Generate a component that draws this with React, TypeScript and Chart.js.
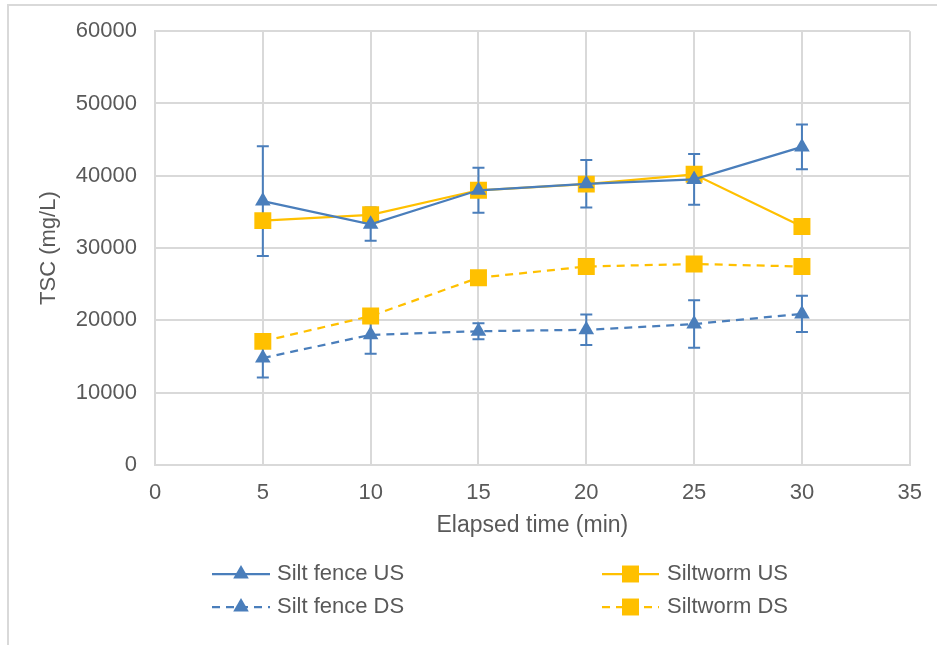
import React, { useEffect, useRef } from "react";
import { Chart, registerables } from "chart.js";
import { drawPoint } from "chart.js/helpers";

Chart.register(...registerables);

const times = [5, 10, 15, 20, 25, 30];
const siltFenceUS = [36500, 33300, 38000, 38900, 39500, 44000];
const siltFenceUSErr = [7600, 2300, 3100, 3300, 3500, 3100];
const siltwormUS = [33800, 34600, 38000, 38850, 40200, 33000];
const siltFenceDS = [14800, 18000, 18500, 18700, 19500, 20900];
const siltFenceDSErr = [2700, 2600, 1100, 2100, 3300, 2500];
const siltwormDS = [17100, 20600, 25900, 27450, 27800, 27450];
const seriesNames = ["Silt fence US", "Siltworm US", "Silt fence DS", "Siltworm DS"];
const yTicks = [0, 10000, 20000, 30000, 40000, 50000, 60000];

const BLUE = "#4A7EBB";
const GOLD = "#FFC000";
const GRID = "#d9d9d9";
const TEXT = "#595959";
const FONT = "'Liberation Sans', Arial, sans-serif";

const toPts = (vals: number[]) => vals.map((v, i) => ({ x: times[i], y: v }));

export default function App() {
  const ref = useRef<HTMLCanvasElement | null>(null);
  useEffect(() => {
    if (!ref.current) return;
    const errors: Record<number, number[]> = { 0: siltFenceUSErr, 2: siltFenceDSErr };

    const errorBarPlugin = {
      id: "errorBars",
      beforeDatasetsDraw(chart: any) {
        const ctx = chart.ctx;
        const xs = chart.scales.x;
        const ys = chart.scales.y;
        ctx.save();
        Object.keys(errors).forEach((k) => {
          const idx = Number(k);
          const ds = chart.data.datasets[idx];
          const err = errors[idx];
          ctx.strokeStyle = ds.borderColor;
          ctx.lineWidth = 2;
          ds.data.forEach((p: any, i: number) => {
            const x = xs.getPixelForValue(p.x);
            const yt = ys.getPixelForValue(p.y + err[i]);
            const yb = ys.getPixelForValue(p.y - err[i]);
            ctx.beginPath();
            ctx.moveTo(x, yt);
            ctx.lineTo(x, yb);
            ctx.moveTo(x - 6, yt);
            ctx.lineTo(x + 6, yt);
            ctx.moveTo(x - 6, yb);
            ctx.lineTo(x + 6, yb);
            ctx.stroke();
          });
        });
        ctx.restore();
      },
    };

    const framePlugin = {
      id: "frameLegend",
      beforeDraw(chart: any) {
        const ctx = chart.ctx;
        ctx.save();
        ctx.fillStyle = "#ffffff";
        ctx.fillRect(0, 0, chart.width, chart.height);
        ctx.strokeStyle = GRID;
        ctx.lineWidth = 2;
        ctx.beginPath();
        ctx.moveTo(8, chart.height);
        ctx.lineTo(8, 5);
        ctx.lineTo(chart.width, 5);
        ctx.stroke();
        ctx.restore();
      },
      afterDraw(chart: any) {
        const ctx = chart.ctx;
        const cols = [
          { x0: 212, x1: 270, text: 277 },
          { x0: 602, x1: 659, text: 667 },
        ];
        const rows = [574, 607];
        ctx.save();
        chart.data.datasets.forEach((ds: any, i: number) => {
          const c = cols[i % 2];
          const y = rows[Math.floor(i / 2)];
          ctx.strokeStyle = ds.borderColor;
          ctx.lineWidth = ds.borderWidth;
          ctx.setLineDash(ds.borderDash || []);
          ctx.beginPath();
          ctx.moveTo(c.x0, y);
          ctx.lineTo(c.x1, y);
          ctx.stroke();
          ctx.setLineDash([]);
          ctx.fillStyle = ds.backgroundColor;
          drawPoint(
            ctx,
            { pointStyle: ds.pointStyle, radius: ds.pointRadius, borderWidth: 0, rotation: 0 } as any,
            (c.x0 + c.x1) / 2,
            y
          );
          ctx.fillStyle = TEXT;
          ctx.font = `22px ${FONT}`;
          ctx.textBaseline = "middle";
          ctx.textAlign = "left";
          ctx.fillText(ds.label, c.text, y);
        });
        ctx.restore();
      },
    };

    const mk = (label: string, data: number[], color: string, style: string, r: number, dashed: boolean) => ({
      label,
      data: toPts(data),
      borderColor: color,
      backgroundColor: color,
      borderWidth: 2.25,
      borderDash: dashed ? [8, 6] : [],
      pointStyle: style,
      pointRadius: r,
      pointHoverRadius: r,
      pointBorderWidth: 0,
      pointBackgroundColor: color,
      tension: 0,
    });

    const chart = new Chart(ref.current, {
      type: "line",
      data: {
        datasets: [
          mk(seriesNames[0], siltFenceUS, BLUE, "triangle", 9, false),
          mk(seriesNames[1], siltwormUS, GOLD, "rect", 12, false),
          mk(seriesNames[2], siltFenceDS, BLUE, "triangle", 9, true),
          mk(seriesNames[3], siltwormDS, GOLD, "rect", 12, true),
        ] as any,
      },
      options: {
        animation: false,
        responsive: false,
        layout: { padding: { left: 20, top: 30, right: 27, bottom: 100 } },
        plugins: { legend: { display: false }, tooltip: { enabled: false } },
        scales: {
          x: {
            type: "linear",
            min: 0,
            max: 35,
            border: { display: true, color: GRID, width: 2 },
            grid: { color: GRID, lineWidth: 2, drawTicks: false },
            ticks: { stepSize: 5, color: TEXT, font: { size: 22, family: FONT }, padding: 15 },
            title: {
              display: true,
              text: "Elapsed time (min)",
              color: TEXT,
              font: { size: 23, family: FONT },
              padding: { top: 0, bottom: 6 },
            },
            afterFit: (s: any) => {
              s.height = 80;
            },
          },
          y: {
            min: 0,
            max: 60000,
            border: { display: true, color: GRID, width: 2 },
            grid: { color: GRID, lineWidth: 2, drawTicks: false },
            afterBuildTicks: (s: any) => {
              s.ticks = yTicks.map((v) => ({ value: v }));
            },
            ticks: { color: TEXT, font: { size: 22, family: FONT }, padding: 18, callback: (v: any) => String(v) },
            title: {
              display: true,
              text: "TSC (mg/L)",
              color: TEXT,
              font: { size: 22, family: FONT },
              padding: { top: 16, bottom: 0 },
            },
            afterFit: (s: any) => {
              s.width = 135;
            },
          },
        },
      } as any,
      plugins: [errorBarPlugin, framePlugin],
    });
    return () => chart.destroy();
  }, []);

  return (
    <div style={{ position: "fixed", left: 0, top: 0, width: 937, height: 645 }}>
      <canvas ref={ref} width={937} height={645} style={{ display: "block", width: 937, height: 645 }} />
    </div>
  );
}
